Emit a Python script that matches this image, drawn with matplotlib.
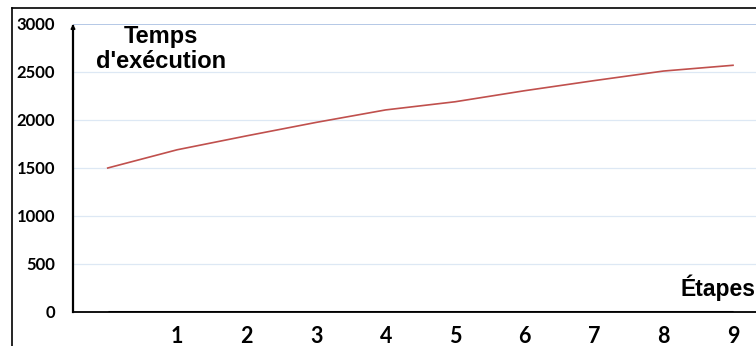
import matplotlib
matplotlib.use("Agg")
import matplotlib.pyplot as plt
from matplotlib.lines import Line2D

steps = [0, 1, 2, 3, 4, 5, 6, 7, 8, 9]
exec_time = [1500, 1690, 1835, 1975, 2105, 2190, 2305, 2410, 2510, 2570]
zero_series = [0, 0, 0, 0, 0, 0, 0, 0, 0, 0]
xtick_values = [1, 2, 3, 4, 5, 6, 7, 8, 9]
ytick_values = [0, 500, 1000, 1500, 2000, 2500, 3000]

W, H = 756, 346
fig = plt.figure(figsize=(W / 100, H / 100), dpi=100)
ax = fig.add_axes([73 / W, (H - 312) / H, 1 - 73 / W, (312 - 24) / H])

ax.set_xlim(-0.5, (756 - 107.5) / 69.5)
ax.set_ylim(0, 3000)

# gridlines
for v in ytick_values[1:-1]:
    ax.axhline(v, color="#dde8f4", lw=0.9, zorder=0)
ax.axhline(3000, color="#b4c8e6", lw=1.4, zorder=0)

ax.plot(steps, exec_time, color="#c0504d", lw=1.2, zorder=3)
ax.plot(steps, zero_series, color="black", lw=2.2, zorder=4, solid_capstyle="butt")

for s in ["top", "right"]:
    ax.spines[s].set_visible(False)
ax.spines["bottom"].set_linewidth(1.3)
ax.spines["left"].set_linewidth(1.6)
ax.spines["left"].set_bounds(0, 2980)

# arrow head at top of y-axis
ax.annotate("", xy=(-0.5, 3000), xytext=(-0.5, 2900),
            arrowprops=dict(arrowstyle="-|>", color="black", lw=1.2,
                            mutation_scale=6, shrinkA=0, shrinkB=0),
            annotation_clip=False, zorder=5)

ax.set_xticks(xtick_values)
ax.set_xticklabels([str(v) for v in xtick_values], fontsize=15.5,
                   fontweight="bold", family="Lato")
ax.set_yticks(ytick_values)
ax.set_yticklabels([str(v) for v in ytick_values], fontsize=12,
                   fontweight="bold", family="Lato")
ax.tick_params(axis="x", length=0, pad=10)
ax.tick_params(axis="y", length=0, pad=13)

fig.text(161 / W, 1 - 49 / H, "Temps\nd'exécution", ha="center", va="center",
         fontsize=17, fontweight="bold", family="Liberation Sans",
         linespacing=1.1)
fig.text(1.0, 1 - 296 / H, "Étapes", ha="right", va="baseline",
         fontsize=16.5, fontweight="bold", family="Liberation Sans")

# outer frame
fig.add_artist(Line2D([12 / W, 12 / W], [0, 1 - 8 / H], transform=fig.transFigure,
                      color="black", lw=1.2))
fig.add_artist(Line2D([12 / W, 1], [1 - 8 / H, 1 - 8 / H], transform=fig.transFigure,
                      color="black", lw=1.2))

fig.savefig("out.png", dpi=100)
